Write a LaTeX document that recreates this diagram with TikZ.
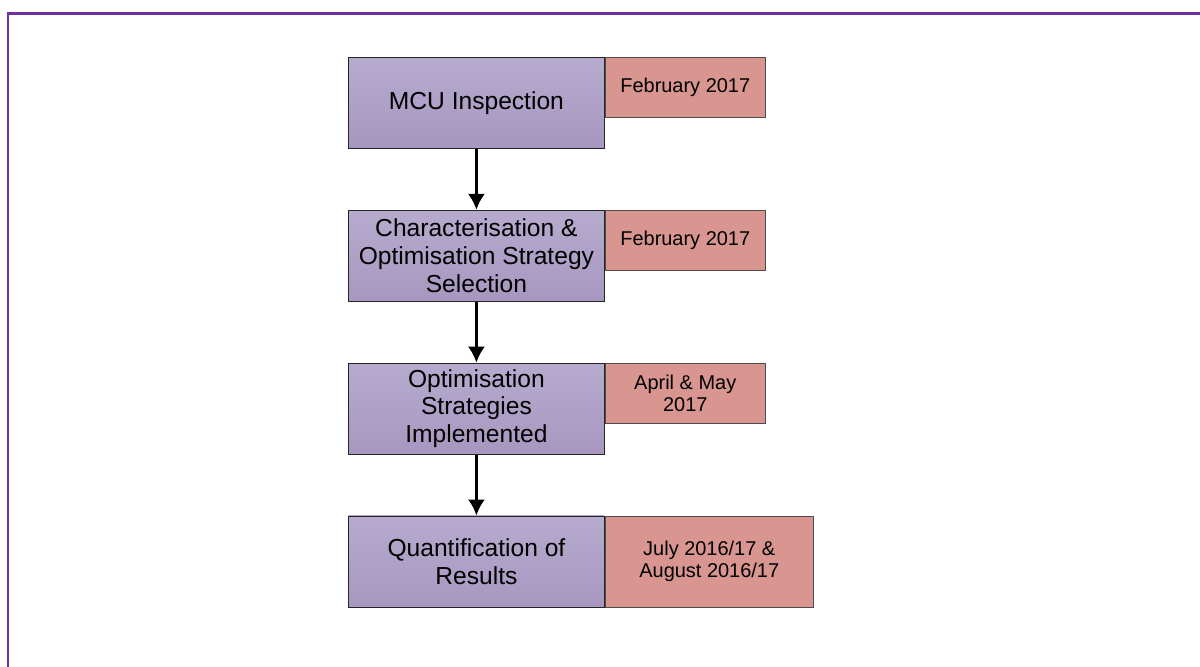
\documentclass[tikz,border=0pt]{standalone}
\usepackage{fontspec}
\setmainfont{Liberation Sans}
\usepackage{tikz}
\usetikzlibrary{positioning, arrows.meta}

\definecolor{framepurple}{HTML}{7030A0}
\definecolor{steptop}{HTML}{B6ABCE}
\definecolor{stepbottom}{HTML}{A797C0}
\definecolor{datered}{HTML}{D9958F}

\tikzset{
	stepbox/.style={draw=black!85, line width=0.6pt, top color=steptop, bottom color=stepbottom,
		minimum width=6.4cm, minimum height=2.275cm, inner sep=0pt, align=center,
		font=\fontsize{17.5}{19.7}\selectfont},
	datebox/.style={draw=black!70, line width=0.6pt, fill=datered, anchor=north west,
		minimum width=4cm, minimum height=1.5cm, inner sep=0pt, align=center,
		font=\fontsize{14.2}{15.9}\selectfont},
	flow/.style={-{Latex[length=4mm,width=4.3mm]}, line width=2.1pt}
}

\begin{document}
\begin{tikzpicture}[node distance=1.525cm]
				
				\useasboundingbox (0,0) rectangle (30,16.65);
				
				% Frame of the page
				\draw[framepurple, line width=1.7pt] (0.2,-0.5) -- (0.2,16.3125) -- (30.5,16.3125);
				
				% Steps
				\node[stepbox, anchor=north west] (mcu) at (8.7,15.225) {MCU Inspection};
				\node[stepbox, below=of mcu] (charac) {Characterisation \&\\Optimisation Strategy\\Selection};
				\node[stepbox, below=of charac] (optim) {Optimisation\\Strategies\\Implemented};
				\node[stepbox, below=of optim] (quant) {Quantification of\\Results};
				
				% Dates
				\node[datebox] (dmcu) at (mcu.north east) {February 2017};
				\node[datebox] (dcharac) at (charac.north east) {February 2017};
				\node[datebox] (doptim) at (optim.north east) {April \& May\\2017};
				\node[datebox, minimum width=5.2cm, minimum height=2.275cm] (dquant) at (quant.north east) {July 2016/17 \&\\August 2016/17};
				
				% Arrows
				\draw[flow] (mcu) -- (charac);
				\draw[flow] (charac) -- (optim);
				\draw[flow] (optim) -- (quant);
				
			\end{tikzpicture}
\end{document}
